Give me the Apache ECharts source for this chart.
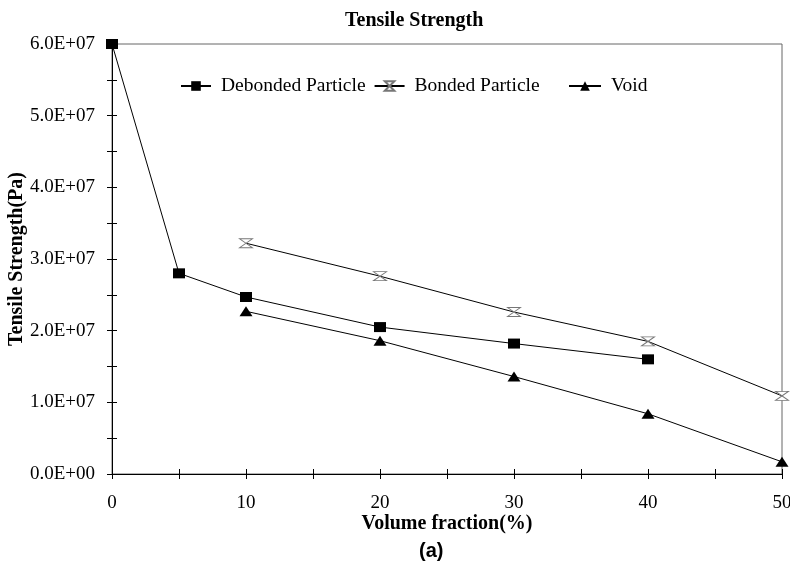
<!DOCTYPE html>
<html>
<head>
<meta charset="utf-8">
<script src="https://cdn.jsdelivr.net/npm/echarts@6/dist/echarts.min.js"></script>
<style>
	html, body { margin: 0; padding: 0; background: #fff; }
	#chart { width: 790px; height: 568px; }
</style>
</head>
<body>
<div id="chart"></div>
<script>
	// volume fraction (%) and tensile strength (Pa)
	var seriesNames = ['Debonded Particle', 'Bonded Particle', 'Void'];
	var debondedX = [0, 5, 10, 20, 30, 40];
	var debondedY = [6.0e7, 2.80e7, 2.47e7, 2.05e7, 1.82e7, 1.60e7];
	var bondedX = [10, 20, 30, 40, 50];
	var bondedY = [3.22e7, 2.76e7, 2.26e7, 1.85e7, 1.09e7];
	var voidX = [10, 20, 30, 40, 50];
	var voidY = [2.27e7, 1.86e7, 1.36e7, 0.84e7, 0.17e7];

	function pairs(xs, ys) {
		var out = [];
		for (var i = 0; i < xs.length; i++) out.push([xs[i], ys[i]]);
		return out;
	}

	var serif = '"Liberation Serif", "Times New Roman", serif';
	var hourglass = 'path://M0,0 L10,0 L0,10 L10,10 Z';
	var legendText = { fontFamily: serif, fontSize: 19.5, color: '#000', padding: [0, 0, 0, 5] };

	var option = {
		animation: false,
		backgroundColor: '#fff',
		title: [{
			text: 'Tensile Strength',
			left: 340,
			top: 6,
			textStyle: { fontFamily: serif, fontWeight: 'bold', fontSize: 20, color: '#000' }
		}, {
			text: '(a)',
			left: 414,
			top: 536,
			textStyle: { fontFamily: '"Liberation Sans", Arial, sans-serif', fontWeight: 'bold', fontSize: 20, color: '#000' }
		}],
		legend: [{
			data: seriesNames.slice(0, 2),
			top: 71,
			left: 175,
			itemWidth: 30,
			itemHeight: 12,
			itemGap: 8,
			textStyle: legendText
		}, {
			data: seriesNames.slice(2),
			top: 71,
			left: 563,
			itemWidth: 32,
			itemHeight: 12,
			textStyle: legendText
		}],
		grid: {
			left: 112,
			right: 8,
			top: 44,
			bottom: 94,
			outerBoundsMode: 'none',
			containLabel: false,
			show: true,
			borderColor: '#666',
			borderWidth: 1
		},
		xAxis: [{
			type: 'value',
			min: 0,
			max: 50,
			interval: 5,
			name: 'Volume fraction(%)',
			nameLocation: 'middle',
			nameGap: 40,
			nameMoveOverlap: false,
			nameTextStyle: { fontFamily: serif, fontWeight: 'bold', fontSize: 20, color: '#000' },
			axisLine: { lineStyle: { color: '#000', width: 1 } },
			axisTick: { show: true, length: 5, lineStyle: { color: '#000' } },
			axisLabel: {
				fontFamily: serif, fontSize: 19, color: '#000', margin: 20,
				formatter: function (v) { return v % 10 === 0 ? String(v) : ''; }
			},
			splitLine: { show: false }
		}, {
			type: 'value',
			min: 0,
			max: 50,
			interval: 5,
			position: 'bottom',
			axisLine: { show: false },
			axisTick: { show: true, inside: true, length: 5, lineStyle: { color: '#000' } },
			axisLabel: { show: false },
			splitLine: { show: false }
		}],
		yAxis: [{
			type: 'value',
			min: 0,
			max: 6e7,
			interval: 5e6,
			name: 'Tensile Strength(Pa)',
			nameLocation: 'middle',
			nameGap: 85,
			nameMoveOverlap: false,
			nameTextStyle: { fontFamily: serif, fontWeight: 'bold', fontSize: 20, color: '#000' },
			axisLine: { show: true, lineStyle: { color: '#000', width: 1 } },
			axisTick: { show: true, length: 5, lineStyle: { color: '#000' } },
			axisLabel: {
				fontFamily: serif, fontSize: 19, color: '#000', margin: 17,
				formatter: function (v) {
					if (v % 1e7 !== 0) return '';
					return (v / 1e7).toFixed(1) + (v === 0 ? 'E+00' : 'E+07');
				}
			},
			splitLine: { show: false }
		}, {
			type: 'value',
			min: 0,
			max: 6e7,
			interval: 5e6,
			position: 'left',
			axisLine: { show: false },
			axisTick: { show: true, inside: true, length: 5, lineStyle: { color: '#000' } },
			axisLabel: { show: false },
			splitLine: { show: false }
		}],
		series: [{
			name: seriesNames[0],
			type: 'line',
			data: pairs(debondedX, debondedY),
			symbol: 'rect',
			symbolSize: [12, 10],
			itemStyle: { color: '#000' },
			lineStyle: { color: '#000', width: 1 }
		}, {
			name: seriesNames[1],
			type: 'line',
			data: pairs(bondedX, bondedY),
			symbol: hourglass,
			symbolSize: [13, 9],
			itemStyle: { color: '#fff', borderColor: '#777', borderWidth: 1 },
			lineStyle: { color: '#000', width: 1 }
		}, {
			name: seriesNames[2],
			type: 'line',
			data: pairs(voidX, voidY),
			symbol: 'triangle',
			symbolSize: [13, 10],
			itemStyle: { color: '#000' },
			lineStyle: { color: '#000', width: 1 }
		}]
	};

	var chart = echarts.init(document.getElementById('chart'));
	chart.setOption(option);
</script>
</body>
</html>
